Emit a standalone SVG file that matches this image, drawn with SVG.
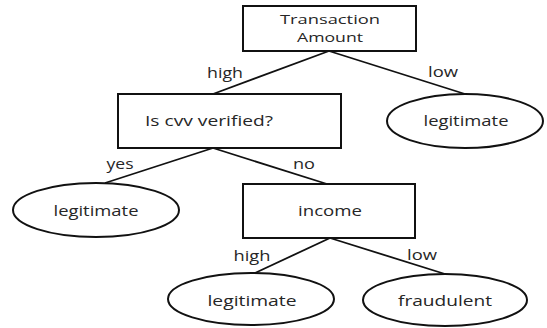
<svg xmlns="http://www.w3.org/2000/svg" width="547" height="328" viewBox="0 0 547 328">
<style>
.box{fill:#fff;stroke:#111;stroke-width:2}
.leaf{fill:#fff;stroke:#111;stroke-width:2}
.edge{stroke:#111;stroke-width:1.8;fill:none}
text{font-family:"Open Sans","Liberation Sans",sans-serif;font-size:14px;fill:#262626;text-anchor:middle}
.two{font-size:13px}
</style>
<rect width="547" height="328" fill="#fff"/>
<g id="connectors">
<line class="edge" x1="329" y1="51" x2="213" y2="94"/>
<line class="edge" x1="329" y1="51" x2="465" y2="94"/>
<line class="edge" x1="213" y1="148" x2="105" y2="183"/>
<line class="edge" x1="213" y1="148" x2="327" y2="184"/>
<line class="edge" x1="330" y1="238" x2="255" y2="273"/>
<line class="edge" x1="330" y1="238" x2="445" y2="274"/>
<text x="225" y="78" textLength="36" lengthAdjust="spacingAndGlyphs">high</text>
<text x="443" y="77" textLength="30" lengthAdjust="spacingAndGlyphs">low</text>
<text x="120" y="169" textLength="27" lengthAdjust="spacingAndGlyphs">yes</text>
<text x="304" y="169" textLength="22" lengthAdjust="spacingAndGlyphs">no</text>
<text x="252" y="261" textLength="37" lengthAdjust="spacingAndGlyphs">high</text>
<text x="422" y="260" textLength="30" lengthAdjust="spacingAndGlyphs">low</text>
</g>
<g id="transaction">
<rect class="box" x="243" y="6" width="173" height="45"/>
<text class="two" x="330" y="24" textLength="100" lengthAdjust="spacingAndGlyphs">Transaction</text>
<text class="two" x="330" y="42" textLength="66" lengthAdjust="spacingAndGlyphs">Amount</text>
</g>
<g id="cvv">
<rect class="box" x="118" y="94" width="223" height="54"/>
<text x="209" y="126" textLength="128" lengthAdjust="spacingAndGlyphs">Is cvv verified?</text>
</g>
<g id="legit-top">
<ellipse class="leaf" cx="465" cy="121" rx="78" ry="27"/>
<text x="466" y="126" textLength="85" lengthAdjust="spacingAndGlyphs">legitimate</text>
</g>
<g id="legit-left">
<ellipse class="leaf" cx="96" cy="210" rx="83" ry="27"/>
<text x="96" y="216" textLength="85" lengthAdjust="spacingAndGlyphs">legitimate</text>
</g>
<g id="income">
<rect class="box" x="243" y="184" width="172" height="54"/>
<text x="330" y="216" textLength="64" lengthAdjust="spacingAndGlyphs">income</text>
</g>
<g id="legit-bottom">
<ellipse class="leaf" cx="251" cy="299" rx="83" ry="26"/>
<text x="252" y="306" textLength="89" lengthAdjust="spacingAndGlyphs">legitimate</text>
</g>
<g id="fraudulent">
<ellipse class="leaf" cx="445" cy="300" rx="82" ry="26"/>
<text x="445" y="306" textLength="94" lengthAdjust="spacingAndGlyphs">fraudulent</text>
</g>
</svg>
